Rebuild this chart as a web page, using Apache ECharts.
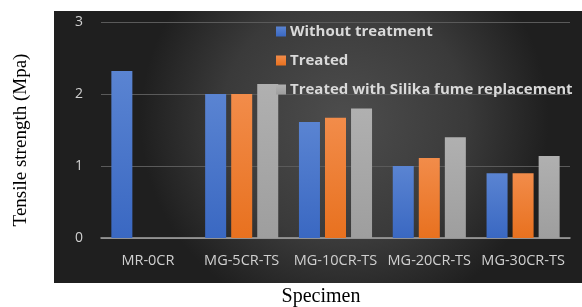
<!DOCTYPE html>
<html><head><meta charset="utf-8">
<script src="https://cdn.jsdelivr.net/npm/echarts@6/dist/echarts.min.js"></script>
<style>html,body{margin:0;padding:0;background:#fff}#c{width:582px;height:307px}</style>
</head><body><div id="c"></div>
<script>
const categories = ['MR-0CR', 'MG-5CR-TS', 'MG-10CR-TS', 'MG-20CR-TS', 'MG-30CR-TS'];
const withoutTreatment = [2.32, 2.0, 1.61, 1.0, 0.9];
const treated = [null, 2.0, 1.67, 1.11, 0.9];
const treatedSilika = [null, 2.14, 1.8, 1.4, 1.14];
const seriesNames = ['Without treatment', 'Treated', 'Treated with Silika fume replacement'];
const yTicks = [0, 1, 2, 3];
const yTitle = 'Tensile strength (Mpa)';
const xTitle = 'Specimen';

function grad(top, bottom) {
  return new echarts.graphic.LinearGradient(0, 0, 0, 1, [{offset: 0, color: top}, {offset: 1, color: bottom}]);
}
const chart = echarts.init(document.getElementById('c'));
chart.setOption({
  animation: false,
  backgroundColor: '#ffffff',
  graphic: [{
    type: 'rect', z: -10, silent: true,
    shape: {x: 54, y: 11, width: 528, height: 272},
    style: {fill: new echarts.graphic.RadialGradient(0.55, 0.4, 0.75, [
      {offset: 0, color: '#4d4d4d'}, {offset: 0.6, color: '#3a3a3a'}, {offset: 1, color: '#1f1f1f'}])}
  }, {
    type: 'text', silent: true, x: 21, y: 140, rotation: Math.PI / 2,
    style: {text: yTitle, fill: '#000', font: '19px "Liberation Serif"', align: 'center', verticalAlign: 'middle'}
  }, {
    type: 'text', silent: true, x: 321, y: 297,
    style: {text: xTitle, fill: '#000', font: '20px "Liberation Serif"', align: 'center', verticalAlign: 'middle'}
  }],
  grid: {left: 101, right: 12, top: 22, bottom: 69, outerBoundsMode: 'none', containLabel: false},
  legend: {
    orient: 'vertical', left: 271, top: 19, itemWidth: 10, itemHeight: 10, itemGap: 14,
    icon: 'rect',
    textStyle: {color: '#d9d9d9', fontFamily: 'Open Sans', fontWeight: 'bold', fontSize: 15, lineHeight: 15, padding: [0,0,0,-1]},
    data: seriesNames
  },
  xAxis: {
    type: 'category', data: categories,
    axisLine: {lineStyle: {color: '#a6a6a6', width: 1.5}},
    axisTick: {show: false},
    axisLabel: {color: '#d0d0d0', fontFamily: 'Open Sans', fontSize: 14.5, margin: 15, interval: 0}
  },
  yAxis: {
    type: 'value', min: yTicks[0], max: yTicks[yTicks.length - 1], interval: 1,
    axisLine: {show: false}, axisTick: {show: false},
    axisLabel: {color: '#d0d0d0', fontFamily: 'Open Sans', fontSize: 14, margin: 18},
    splitLine: {lineStyle: {color: '#5a5a5a', width: 1}}
  },
  series: [
    {name: seriesNames[0], type: 'bar', data: withoutTreatment, barWidth: 21, barGap: '24%',
     itemStyle: {color: grad('#5a84d2', '#3a68c2')}},
    {name: seriesNames[1], type: 'bar', data: treated, barWidth: 21, barGap: '24%',
     itemStyle: {color: grad('#f28c4a', '#e8711f')}},
    {name: seriesNames[2], type: 'bar', data: treatedSilika, barWidth: 21, barGap: '24%',
     itemStyle: {color: grad('#b0b0b0', '#9e9e9e')}}
  ],
  color: ['#4472c4', '#ed7d31', '#a5a5a5']
});
</script></body></html>
